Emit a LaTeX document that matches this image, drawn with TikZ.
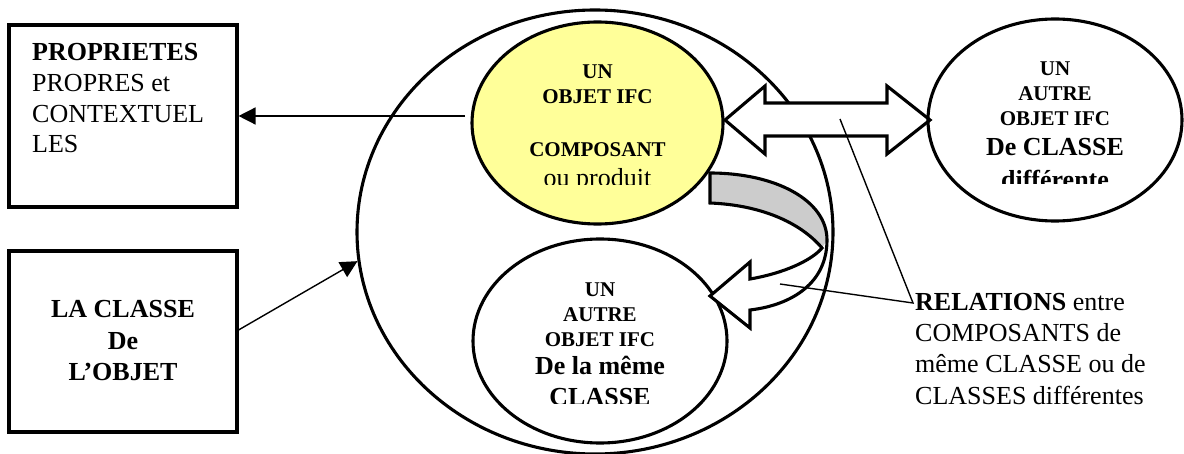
\documentclass[tikz,border=0pt]{standalone}
\usepackage{fontspec}
\setmainfont{Liberation Serif}
\usetikzlibrary{shapes.geometric,arrows.meta}

% text sizes used in the figure
\newcommand\txtreg{\fontsize{26}{30.7}\selectfont}
\newcommand\txtsmallbf{\fontsize{21}{25}\selectfont\bfseries}
\newcommand\txtbigbf{\fontsize{26}{30}\selectfont\bfseries}

\definecolor{paleyellow}{RGB}{255,255,153}
\definecolor{bandgray}{RGB}{204,204,204}

\begin{document}
\begin{tikzpicture}[x=1pt,y=-1pt,
  outline/.style={draw, line width=3.1pt},
  boxnode/.style={outline, rectangle, inner sep=0pt},
  oval/.style={outline, ellipse, inner sep=0pt},
  blockarrow/.style={outline, fill=white, line join=miter},
  thinline/.style={line width=1.4pt},
  pointer/.style={thinline, -{Triangle[length=17pt,width=17pt]}},
  lbl/.style={inner sep=0pt, anchor=base},
]
\useasboundingbox (0,0) rectangle (1184,454);

% left boxes
\node[boxnode, minimum width=228pt, minimum height=182pt] (props) at (123,116) {};
\node[boxnode, minimum width=228pt, minimum height=181pt] (classbox) at (123,341.5) {};

% the object and its neighbours
\node[oval, minimum width=476pt, minimum height=444pt] (big) at (595,232) {};
\node[oval, fill=paleyellow, minimum width=251pt, minimum height=202pt] (yellow) at (597.5,123) {};
\node[oval, minimum width=254pt, minimum height=204pt] (same) at (600,341) {};

% curved arrow towards the object of the same class
\fill[white] (710,173) .. controls (775,173) and (827,200) .. (827,240)
  .. controls (827,283) and (792,305) .. (750,310) -- (750,328) -- (710,296)
  -- (750,262) -- (750,279) .. controls (785,273) and (812,260) .. (822,248)
  .. controls (800,222) and (760,205) .. (710,203) -- cycle;
\fill[bandgray] (710,173) .. controls (775,173) and (827,200) .. (827,240)
  -- (822,248) .. controls (800,222) and (760,205) .. (710,203) -- cycle;
\draw[line width=3.1pt, line join=miter] (710,173) .. controls (775,173) and (827,200) .. (827,240)
  .. controls (827,283) and (792,305) .. (750,310) -- (750,328) -- (710,296)
  -- (750,262) -- (750,279) .. controls (785,273) and (812,260) .. (822,248)
  .. controls (800,222) and (760,205) .. (710,203) -- cycle;

% double arrow towards the object of another class
\draw[blockarrow] (725,120) -- (765,86) -- (765,103) -- (887,103) -- (887,86)
  -- (930,120) -- (887,154) -- (887,136) -- (765,136) -- (765,154) -- cycle;
\node[oval, minimum width=254pt, minimum height=202pt] (other) at (1055,120) {};

% texts of the boxes (multi-line nodes sit on their last baseline)
\node[lbl, anchor=base west, font=\txtreg, align=left] (proptext) at (32,153)
  {\textbf{PROPRIETES}\\PROPRES et\\CONTEXTUEL\\LES};
\node[lbl, font=\fontsize{26}{31.5}\selectfont\bfseries, align=center] (classtext) at (123,381)
  {LA CLASSE\\De\\L’OBJET};

% texts of the ellipses
\node[lbl, font=\txtsmallbf, align=center] (y1) at (597.5,104) {UN\\OBJET IFC};
\node[lbl, font=\txtsmallbf] (y2) at (597.5,157) {COMPOSANT};
\begin{scope}
  \clip (500,150) rectangle (700,184.5);
  \node[lbl, font=\txtreg] (y3) at (597.5,187) {ou produit};
\end{scope}

\node[lbl, font=\txtsmallbf, align=center] (s1) at (600,347) {UN\\AUTRE\\OBJET IFC};
\node[lbl, font=\txtbigbf] (s2) at (600,375) {De la même};
\begin{scope}
  \clip (500,380) rectangle (700,403);
  \node[lbl, font=\txtbigbf] (s3) at (600,406) {CLASSE};
\end{scope}

\node[lbl, font=\txtsmallbf, align=center] (o1) at (1055,126) {UN\\AUTRE\\OBJET IFC};
\node[lbl, font=\txtbigbf] (o2) at (1055,156) {De CLASSE};
\begin{scope}
  \clip (960,160) rectangle (1150,184);
  \node[lbl, font=\txtbigbf] (o3) at (1055,189) {différente};
\end{scope}

% relations label and its leader lines
\node[lbl, anchor=base west, font=\fontsize{26}{31.3}\selectfont, align=left] (rel) at (915,404)
  {\textbf{RELATIONS} entre\\COMPOSANTS de\\même CLASSE ou de\\CLASSES différentes};
\coordinate (relpt) at (913,303);
\coordinate (fromdouble) at (840,119);
\coordinate (fromcurved) at (780,284);
\draw[thinline] (fromdouble) -- (relpt) -- (fromcurved);

% pointers from the object to its properties and from its class
\coordinate (objleft) at (465,116);
\draw[pointer] (objleft) -- (props.east);
\draw[pointer] ([yshift=11.5pt]classbox.east) -- (big.187);
\end{tikzpicture}
\end{document}
